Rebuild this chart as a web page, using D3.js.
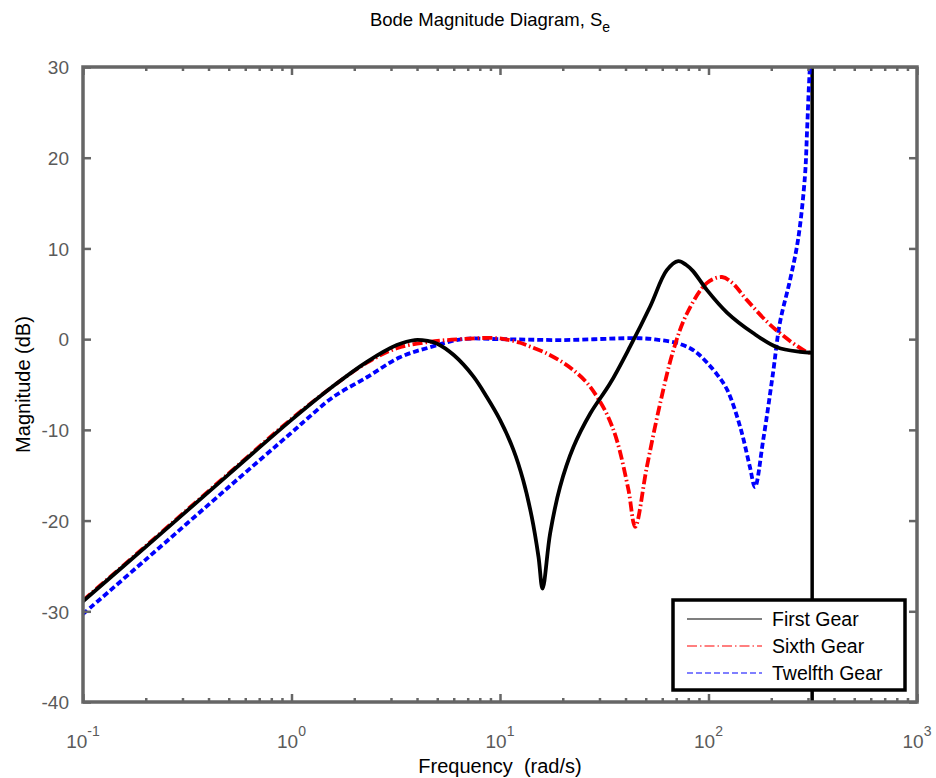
<!DOCTYPE html>
<html>
<head>
<meta charset="UTF-8">
<title>Bode Magnitude Diagram</title>
<style>
  body { margin: 0; background: #fff; }
  svg { display: block; font-family: 'Liberation Sans', Arial, sans-serif; }
  .tick text { fill: #5a5a5a; }
</style>
</head>
<body>
<div id="chart"></div>
<script src="https://d3js.org/d3.v7.min.js"></script>
<script>
// frequencies (rad/s) and magnitudes (dB)
const firstW = [0.1, 0.2, 0.5, 1, 1.58, 2.3, 3.2, 3.9, 4.5, 5.0, 6.0, 7.45, 8.63, 10, 11.6, 12.9, 14.2, 15.3, 16.0, 17.4, 19.4, 22.5, 27.1, 33.7, 42.1, 52.5, 63.1, 71.6, 78, 84.3, 98.4, 123, 163, 213, 275, 314];
const firstDb = [-28.9, -22.9, -14.9, -8.9, -5.2, -2.5, -0.65, -0.1, -0.2, -0.5, -1.75, -4.1, -6.35, -8.9, -12.2, -15.5, -19.6, -24.0, -27.5, -21.4, -16.3, -11.9, -8.2, -4.9, -0.8, 3.6, 7.6, 8.6, 8.2, 7.5, 5.4, 2.9, 0.7, -0.9, -1.4, -1.5];

const sixthW = [0.1, 0.2, 0.5, 1, 1.58, 2.3, 3.2, 4.6, 6.5, 9.7, 12.5, 13.9, 16.5, 20.1, 23, 26.1, 29.1, 32.6, 36.3, 41.3, 44.5, 50.6, 58.6, 67.9, 78.7, 98.4, 116, 130, 153, 204, 296, 314];
const sixthDb = [-28.8, -22.8, -14.8, -8.8, -5.2, -2.6, -1.0, -0.3, 0.0, 0.1, -0.4, -0.8, -1.5, -2.6, -3.6, -4.8, -6.3, -8.3, -11.1, -16.6, -20.7, -14.1, -7.1, -1.2, 2.8, 6.2, 6.85, 6.2, 4.3, 1.3, -1.4, -1.5];

const twelfthW = [0.1, 0.2, 0.5, 1, 1.2, 1.58, 2.3, 3.31, 4.6, 6.6, 10, 20, 47, 58.5, 70, 81.6, 90, 98.4, 110, 123, 142, 158, 167, 183, 204, 220, 246, 269, 290, 297, 303, 308, 314];
const twelfthDb = [-30.3, -24.3, -16.3, -10.3, -8.7, -6.4, -4.2, -2.0, -0.9, 0.0, 0.0, -0.1, 0.1, -0.1, -0.4, -1.0, -1.7, -2.6, -3.9, -5.6, -9.7, -14.1, -16.3, -11.1, -3.7, 1.8, 6.5, 11, 17.9, 23, 27.8, 31, 35];

const nyquist = 314.16;
const xMajor = [0.1, 1, 10, 100, 1000];
const xExp = ['-1', '0', '1', '2', '3'];
const yTicks = [-40, -30, -20, -10, 0, 10, 20, 30];
const seriesNames = ['First Gear', 'Sixth Gear', 'Twelfth Gear'];

const W = 936, H = 778;
const margin = { top: 67, right: 19, bottom: 76, left: 83 };
const width = W - margin.left - margin.right;
const height = H - margin.top - margin.bottom;
const axisColor = '#666';

const svg = d3.select('#chart').append('svg')
  .attr('width', W).attr('height', H);

const x = d3.scaleLog().domain([0.1, 1000]).range([0, width]);
const y = d3.scaleLinear().domain([-40, 30]).range([height, 0]);

const g = svg.append('g').attr('transform', `translate(${margin.left},${margin.top})`);

g.append('clipPath').attr('id', 'clip')
  .append('rect').attr('width', width).attr('height', height);

// minor + major tick values
const xAll = [];
xMajor.forEach((m, i) => {
  if (i < xMajor.length - 1) for (let k = 1; k < 10; k++) xAll.push(m * k);
  else xAll.push(m);
});
const isMajor = v => xMajor.some(m => Math.abs(m - v) < 1e-9);

// curves
const line = d3.line()
  .x(d => x(d[0])).y(d => y(d[1]))
  .curve(d3.curveCatmullRom.alpha(0.5));

const curves = g.append('g').attr('clip-path', 'url(#clip)');

curves.append('line')
  .attr('x1', x(nyquist)).attr('x2', x(nyquist))
  .attr('y1', y(-40)).attr('y2', y(30))
  .attr('stroke', '#000').attr('stroke-width', 3.5);

const styles = [
  { color: '#000', dash: null },
  { color: '#ff0000', dash: '10,3,1.5,3' },
  { color: '#0000ff', dash: '6,3' }
];
const series = [
  d3.zip(firstW, firstDb),
  d3.zip(sixthW, sixthDb),
  d3.zip(twelfthW, twelfthDb)
];

[2, 1, 0].forEach(i => {
  curves.append('path')
    .datum(series[i])
    .attr('fill', 'none')
    .attr('stroke', styles[i].color)
    .attr('stroke-width', 3.8)
    .attr('stroke-dasharray', styles[i].dash)
    .attr('d', line);
});

// axes: ticks pointing inward on all four sides
function styleX(sel, dir) {
  sel.select('.domain').remove();
  sel.selectAll('.tick line')
    .attr('stroke', axisColor).attr('stroke-width', 2.5)
    .attr('y2', d => dir * (isMajor(d) ? 8 : 4));
  sel.selectAll('.tick text').remove();
}
g.append('g').attr('transform', `translate(0,${height})`)
  .call(d3.axisBottom(x).tickValues(xAll).tickSize(0))
  .call(s => styleX(s, -1));
g.append('g')
  .call(d3.axisTop(x).tickValues(xAll).tickSize(0))
  .call(s => styleX(s, 1));

const yLeft = g.append('g')
  .call(d3.axisLeft(y).tickValues(yTicks).tickSize(-8).tickPadding(14).tickFormat(d => String(d)));
yLeft.select('.domain').remove();
yLeft.selectAll('.tick line').attr('stroke', axisColor).attr('stroke-width', 2.5);
yLeft.selectAll('.tick text').attr('font-size', 19).attr('font-family', 'Liberation Sans, Arial, sans-serif').attr('dy', '0.36em');

const yRight = g.append('g').attr('transform', `translate(${width},0)`)
  .call(d3.axisRight(y).tickValues(yTicks).tickSize(-8).tickFormat(''));
yRight.select('.domain').remove();
yRight.selectAll('.tick line').attr('stroke', axisColor).attr('stroke-width', 2.5);

// box
g.append('rect')
  .attr('width', width).attr('height', height)
  .attr('fill', 'none').attr('stroke', axisColor).attr('stroke-width', 3.5);

// x tick labels with exponents
const xl = g.append('g').attr('class', 'tick');
xMajor.forEach((m, i) => {
  const t = xl.append('text')
    .attr('x', x(m)).attr('y', height + 46)
    .attr('text-anchor', 'middle').attr('font-size', 19);
  t.append('tspan').text('10');
  t.append('tspan').attr('dy', -12).attr('font-size', 14).text(xExp[i]);
});

// legend
const lg = svg.append('g').attr('transform', 'translate(673,600)');
lg.append('rect').attr('width', 232).attr('height', 90)
  .attr('fill', '#fff').attr('stroke', '#000').attr('stroke-width', 3.5);
seriesNames.forEach((name, i) => {
  const yy = 19 + i * 27;
  lg.append('line')
    .attr('x1', 14).attr('x2', 89).attr('y1', yy).attr('y2', yy)
    .attr('stroke', styles[i].color).attr('stroke-width', 1.2)
    .attr('stroke-dasharray', styles[i].dash);
  lg.append('text').attr('x', 99).attr('y', yy + 7)
    .attr('font-size', 19.5).attr('fill', '#000').text(name);
});

// title and axis labels
const title = svg.append('text')
  .attr('x', 490).attr('y', 26)
  .attr('text-anchor', 'middle').attr('font-size', 18.5).attr('fill', '#000');
title.append('tspan').text('Bode Magnitude Diagram, S');
title.append('tspan').attr('dy', 6).attr('font-size', 14).text('e');

svg.append('text')
  .attr('x', margin.left + width / 2).attr('y', 773)
  .attr('text-anchor', 'middle').attr('font-size', 20).attr('fill', '#000')
  .attr('xml:space', 'preserve')
  .text('Frequency  (rad/s)');

svg.append('text')
  .attr('transform', `translate(30,${margin.top + height / 2}) rotate(-90)`)
  .attr('text-anchor', 'middle').attr('font-size', 20).attr('fill', '#000')
  .text('Magnitude (dB)');
</script>
</body>
</html>
